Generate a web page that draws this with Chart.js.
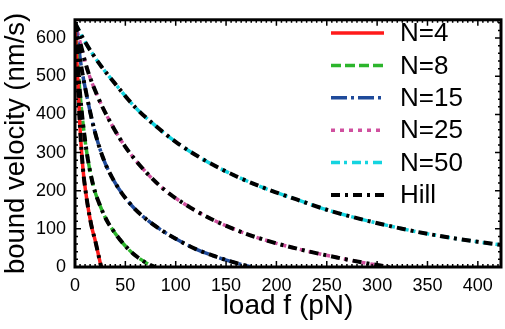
<!DOCTYPE html>
<html>
<head>
<meta charset="utf-8">
<script src="https://cdn.jsdelivr.net/npm/chart.js@4.4.1/dist/chart.umd.min.js"></script>
<style>
html,body{margin:0;padding:0;background:#fff;}
canvas{display:block;}
</style>
</head>
<body>
<canvas id="c" width="505" height="329"></canvas>
<script>
// ---- data ----
const xTickLabels = [0, 50, 100, 150, 200, 250, 300, 350, 400];
const yTickLabels = [0, 100, 200, 300, 400, 500, 600];

const seriesNames = ["N=4", "N=8", "N=15", "N=25", "N=50"];
const hillName = "Hill";

const loadN4 = [0, 1, 2.5, 5, 8, 11, 14, 17, 20, 23, 26];
const velN4  = [640, 580, 505, 365, 255, 190, 140, 100, 70, 35, 0];

const loadN8 = [0, 2, 5, 8, 12, 18, 25, 32, 40, 50, 60, 70, 79];
const velN8  = [640, 560, 455, 375, 295, 215, 160, 120, 88, 55, 30, 12, 0];

const loadN15 = [0, 3, 6, 12, 19, 28, 40, 55, 70, 85, 100, 120, 140, 158, 175];
const velN15  = [640, 590, 530, 445, 362, 285, 220, 165, 127, 98, 74, 47, 27, 12, 0];

const loadN25 = [0, 5, 12, 22, 35, 50, 70, 90, 115, 140, 170, 200, 230, 260, 285, 312];
const velN25  = [640, 590, 520, 450, 380, 315, 250, 200, 155, 120, 87, 62, 42, 25, 12, 0];

const loadN50 = [0, 10, 25, 40, 60, 80, 100, 130, 160, 190, 220, 250, 280, 310, 340, 370, 400, 423];
const velN50  = [640, 590, 530, 480, 418, 370, 328, 278, 238, 205, 177, 150, 128, 109, 92, 78, 66, 58];

// Hill fits overlap the simulated curves
const hillLoads = [loadN4, loadN8, loadN15, loadN25, loadN50];
const hillVels  = [velN4, velN8, velN15, velN25, velN50];

// ---- styles ----
const colors = ["#ff1a1a", "#2cb52c", "#1f4a9a", "#d0509f", "#14d4e0"];
const dashes = [[], [10, 4], [16, 4, 3, 4], [4, 5], [9, 4, 3, 5]];
const hillDash = [9, 5, 3, 5];

function pts(xs, ys) { return xs.map((x, i) => ({x: x, y: ys[i]})); }

const loads = [loadN4, loadN8, loadN15, loadN25, loadN50];
const vels = [velN4, velN8, velN15, velN25, velN50];

const datasets = [];
seriesNames.forEach((name, i) => {
  datasets.push({
    label: name, data: pts(loads[i], vels[i]),
    borderColor: colors[i], borderWidth: 3.5, borderDash: dashes[i],
    pointRadius: 0, fill: false, cubicInterpolationMode: 'monotone',
    order: 1, legendShow: true
  });
});
hillLoads.forEach((xs, i) => {
  datasets.push({
    label: hillName, data: pts(xs, hillVels[i]),
    borderColor: "#000000", borderWidth: 4, borderDash: hillDash,
    pointRadius: 0, fill: false, cubicInterpolationMode: 'monotone',
    order: 0, legendShow: i === 0
  });
});

const FONT = "'Liberation Sans', Arial, Helvetica, sans-serif";

const framePlugin = {
  id: 'frame',
  afterDatasetsDraw(chart) {
    const ctx = chart.ctx, a = chart.chartArea;
    const xs = chart.scales.x, ys = chart.scales.y;
    ctx.save();
    ctx.strokeStyle = '#000';
    ctx.setLineDash([]);
    ctx.lineWidth = 1.5;
    for (let v = 0; v <= xs.max; v += 5) {
      const px = xs.getPixelForValue(v);
      const len = (v % 50 === 0) ? 6 : 3;
      ctx.beginPath();
      ctx.moveTo(px, a.bottom); ctx.lineTo(px, a.bottom - len);
      ctx.moveTo(px, a.top); ctx.lineTo(px, a.top + len);
      ctx.stroke();
    }
    for (let v = 0; v <= ys.max; v += 20) {
      const py = ys.getPixelForValue(v);
      const len = (v % 100 === 0) ? 6 : 3;
      ctx.beginPath();
      ctx.moveTo(a.left, py); ctx.lineTo(a.left + len, py);
      ctx.moveTo(a.right, py); ctx.lineTo(a.right - len, py);
      ctx.stroke();
    }
    ctx.lineWidth = 3;
    ctx.strokeRect(a.left, a.top, a.right - a.left, a.bottom - a.top);
    ctx.restore();
  },
  afterDraw(chart) {
    const ctx = chart.ctx;
    const shown = chart.data.datasets.filter(d => d.legendShow);
    const x0 = 331, x1 = 384, tx = 400, y0 = 33, dy = 32.4;
    ctx.save();
    ctx.font = "26px " + FONT;
    ctx.textBaseline = 'middle';
    ctx.textAlign = 'left';
    shown.forEach((d, i) => {
      const y = y0 + i * dy;
      ctx.strokeStyle = d.borderColor;
      ctx.lineWidth = d.borderWidth;
      ctx.setLineDash(d.borderDash);
      ctx.beginPath(); ctx.moveTo(x0, y); ctx.lineTo(x1, y); ctx.stroke();
      ctx.fillStyle = '#000';
      ctx.fillText(d.label, tx, y + 1);
    });
    ctx.restore();
  }
};

new Chart(document.getElementById('c'), {
  type: 'line',
  data: { datasets: datasets },
  plugins: [framePlugin],
  options: {
    responsive: false, animation: false, devicePixelRatio: 1,
    layout: { padding: { left: 0, right: 4, top: 5, bottom: 0 } },
    plugins: { legend: { display: false }, tooltip: { enabled: false } },
    scales: {
      x: {
        type: 'linear', min: 0, max: 423,
        grid: { display: false, drawTicks: false }, border: { display: false },
        ticks: { color: '#000', font: { family: FONT, size: 18 }, padding: 8, maxRotation: 0 },
        title: { display: true, text: 'load f (pN)', color: '#000', font: { family: FONT, size: 28 }, padding: { top: 0, bottom: 6 } },
        afterBuildTicks: s => { s.ticks = xTickLabels.map(v => ({ value: v })); },
        afterFit: s => { s.height = 62; }
      },
      y: {
        type: 'linear', min: 0, max: 648,
        grid: { display: false, drawTicks: false }, border: { display: false },
        ticks: { color: '#000', font: { family: FONT, size: 18 }, padding: 9 },
        title: { display: true, text: 'bound velocity (nm/s)', color: '#000', font: { family: FONT, size: 27.5 }, padding: { top: 0, bottom: 0 } },
        afterBuildTicks: s => { s.ticks = yTickLabels.map(v => ({ value: v })); },
        afterFit: s => { s.width = 75; }
      }
    }
  }
});
</script>
</body>
</html>
